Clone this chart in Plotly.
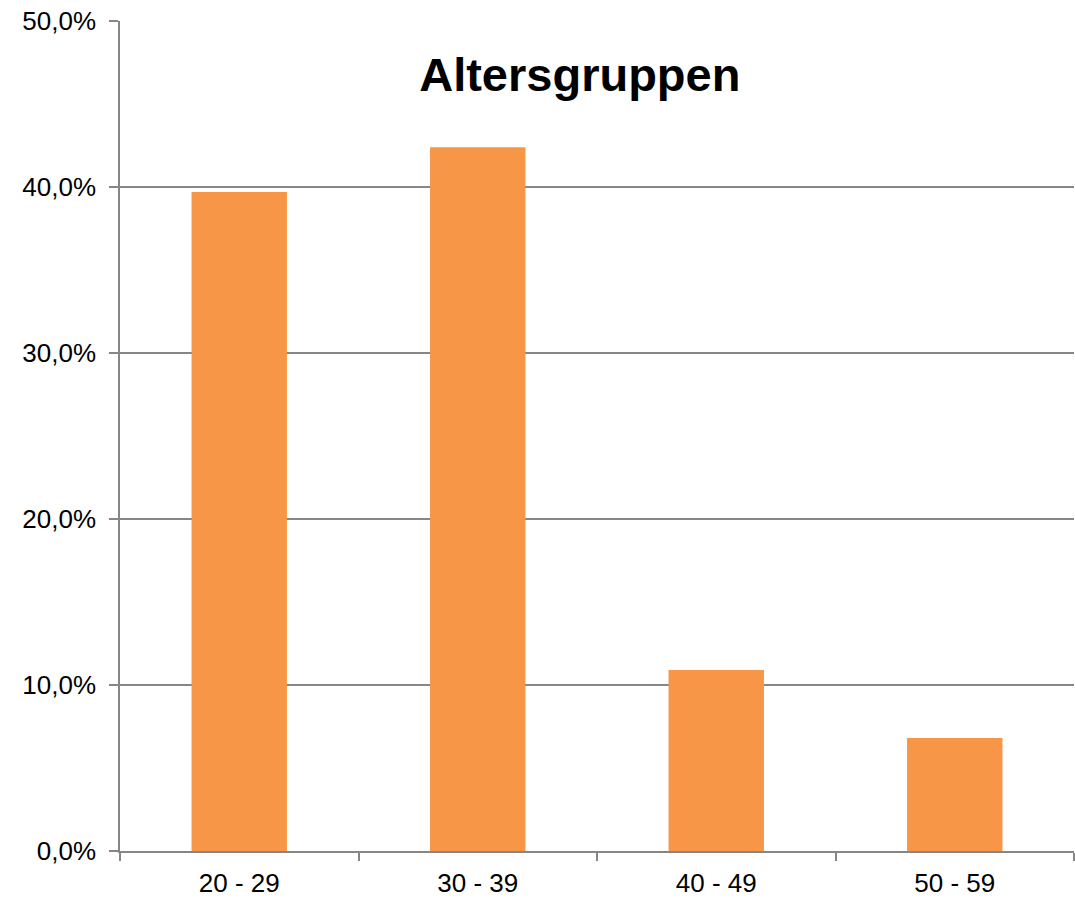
import plotly.graph_objects as go

BAR_COLOR = "#F79646"
GRID = "#868686"
FONT = "Liberation Sans, Arial, sans-serif"

age_groups = ["20 - 29", "30 - 39", "40 - 49", "50 - 59"]
shares = [0.397, 0.424, 0.109, 0.068]
y_ticks = [0.0, 0.1, 0.2, 0.3, 0.4, 0.5]
y_tick_labels = ["0,0%", "10,0%", "20,0%", "30,0%", "40,0%", "50,0%"]

fig = go.Figure()
fig.add_bar(x=age_groups, y=shares, width=0.4, marker=dict(color=BAR_COLOR, line=dict(width=0)))

fig.update_layout(
    width=1075, height=899,
    margin=dict(l=120, r=1, t=21, b=46),
    paper_bgcolor="white", plot_bgcolor="white",
    font=dict(family=FONT, size=26, color="black"),
    showlegend=False,
    title=dict(text="<b>Altersgruppen</b>", font=dict(size=47, family=FONT, color="black"),
               x=0.482, xref="paper", xanchor="center",
               y=0.917, yref="container", yanchor="middle"),
)
fig.update_xaxes(
    type="category", showline=True, linecolor=GRID, linewidth=1.5,
    ticks="outside", ticklen=8, tickcolor=GRID, tickwidth=1.5,
    tickson="boundaries", showgrid=False, ticklabelstandoff=8,
)
fig.update_yaxes(
    range=[0, 0.5], tickvals=y_ticks, ticktext=y_tick_labels,
    showline=True, linecolor=GRID, linewidth=1.5,
    ticks="outside", ticklen=9, tickcolor=GRID, tickwidth=1.5,
    showgrid=True, gridcolor=GRID, gridwidth=1.5, zeroline=False,
    ticklabelstandoff=8,
)

# drop the default 8px page margin so the figure sits at the window corner
fig.write_html("out.html", config=dict(displayModeBar=False),
               post_script="document.body.style.margin = '0px';")
